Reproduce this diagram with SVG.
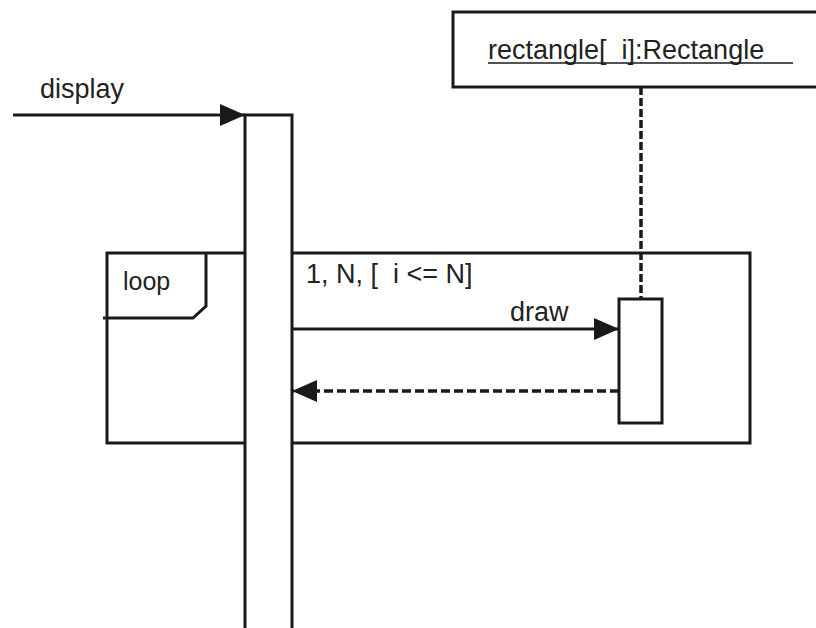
<svg xmlns="http://www.w3.org/2000/svg" width="816" height="628" viewBox="0 0 816 628">
<defs>
<style>
.ln{stroke:#1a1a1a;stroke-width:3;fill:none}
.bx{stroke:#1a1a1a;stroke-width:3;fill:#fff}
.dash{stroke:#1a1a1a;stroke-width:3.5;fill:none;stroke-dasharray:9 4}
.t{font-family:"Liberation Sans",Arial,sans-serif;font-size:27px;fill:#222;white-space:pre}
</style>
<marker id="ah" viewBox="0 0 25 22" refX="25" refY="11" markerWidth="25" markerHeight="22" markerUnits="userSpaceOnUse" orient="auto">
<path d="M0,0 L25,11 L0,22 Z" fill="#1a1a1a"/>
</marker>
</defs>
<rect width="816" height="628" fill="#fff"/>
<g id="loop-frame">
<polyline class="ln" points="245,253 107,253 107,443 245,443"/>
<polyline class="ln" points="292,253 750,253 750,443 292,443"/>
<polyline class="ln" points="206,253 206,306 193,318 103,318"/>
<text class="t" x="123" y="290" style="font-size:25px">loop</text>
<text class="t" x="306" y="283" xml:space="preserve">1, N, [  i &lt;= N]</text>
</g>
<g id="rectangle-obj">
<rect class="bx" x="453" y="12" width="380" height="75"/>
<text class="t" x="488" y="59" xml:space="preserve">rectangle[  i]:Rectangle</text>
<line x1="488" y1="63" x2="793" y2="63" stroke="#1a1a1a" stroke-width="1.5"/>
</g>
<g id="connectors">
<line class="dash" x1="641" y1="87" x2="641" y2="299" style="stroke-dasharray:8 3"/>
<line class="ln" x1="13" y1="115" x2="245" y2="115" marker-end="url(#ah)"/>
<line class="ln" x1="292" y1="329" x2="619" y2="329" marker-end="url(#ah)"/>
<line class="dash" x1="619" y1="391" x2="292" y2="391" marker-end="url(#ah)"/>
<text class="t" x="40" y="98">display</text>
<text class="t" x="510" y="321">draw</text>
</g>
<g id="main-activation">
<polyline class="bx" points="245,640 245,115 292,115 292,640"/>
</g>
<g id="rectangle-activation">
<rect class="bx" x="619" y="299" width="43" height="124"/>
</g>
</svg>
